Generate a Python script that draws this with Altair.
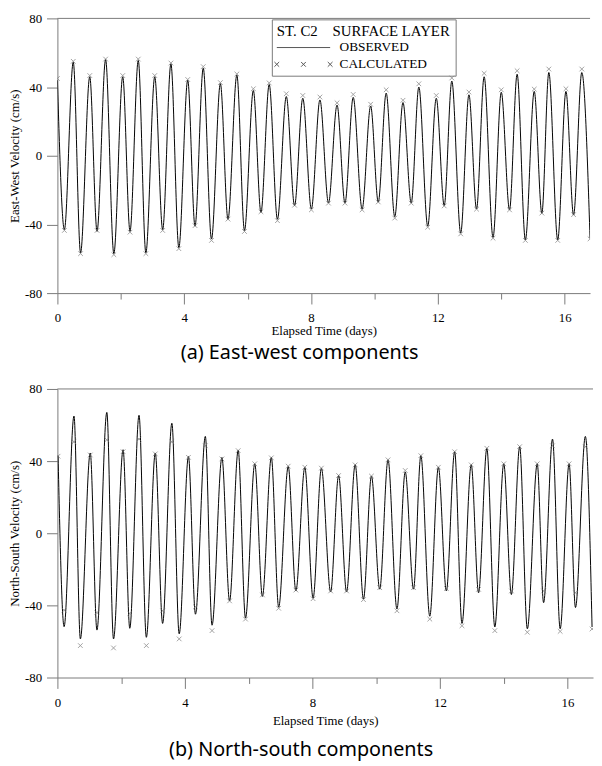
import altair as alt
import pandas as pd

# ---------------- data (extrema of each half tide) -------------
# (a) East-west component: times of successive peaks / troughs (days)
ew_times = [0.00, 0.22, 0.50, 0.73, 1.02, 1.25, 1.52, 1.78, 2.06, 2.29, 2.55, 2.79,
            3.07, 3.32, 3.58, 3.83, 4.11, 4.34, 4.60, 4.86, 5.14, 5.38, 5.66, 5.90,
            6.18, 6.42, 6.68, 6.94, 7.22, 7.48, 7.74, 8.01, 8.28, 8.55, 8.82, 9.07,
            9.33, 9.61, 9.88, 10.12, 10.37, 10.64, 10.90, 11.16, 11.40, 11.68, 11.95,
            12.20, 12.44, 12.72, 12.98, 13.22, 13.46, 13.74, 14.00, 14.26, 14.50,
            14.76, 15.04, 15.28, 15.50, 15.78, 16.04, 16.28, 16.54, 16.80]
ew_calc = [45, -43.5, 55, -57, 46.7, -43.5, 56.3, -57.6, 46.7, -44.5, 56.3, -57,
           46.7, -43.5, 54, -54.1, 44.4, -40.7, 51.9, -49.3, 42.6, -36.9, 47.6, -44.1,
           39, -32.6, 42.4, -37.8, 36.1, -28.8, 35.1, -31.5, 34.2, -27.6, 30.8, -27.6,
           35.7, -31.5, 30, -26.9, 38.4, -36.3, 32.3, -27.6, 41.9, -41.6, 35.1,
           -29.2, 45.3, -45.5, 37.1, -31.1, 48, -48, 38.4, -31.5, 49.5,
           -49.3, 38.8, -33.4, 50.5, -49.3, 39, -34.3, 50.5, -48.4]
ew_obs = [44, -43, 54.5, -56.5, 46, -44, 56, -57, 46, -44, 55.5, -56.5,
          46, -43, 53.5, -53.5, 44, -41, 51, -48.5, 42, -37, 47, -43.5,
          38, -33, 41.5, -37, 34.5, -29, 33.5, -31, 32.5, -27.5, 29.5, -27.5,
          34, -31, 29, -27, 36.5, -35.5, 31, -27.5, 40, -41, 33.5,
          -29, 43.5, -45, 35.5, -31, 46, -47.5, 37, -31.5, 47.5,
          -49, 37.5, -33.5, 48.5, -49, 37.5, -34.5, 48.5, -48]

# (b) North-south component
ns_times = [0.02, 0.21, 0.52, 0.72, 1.03, 1.24, 1.55, 1.76, 2.06, 2.27, 2.56, 2.79,
            3.07, 3.30, 3.59, 3.82, 4.11, 4.33, 4.64, 4.85, 5.16, 5.40, 5.67, 5.90,
            6.19, 6.43, 6.71, 6.94, 7.24, 7.48, 7.76, 8.02, 8.28, 8.57, 8.82, 9.07,
            9.34, 9.60, 9.85, 10.11, 10.37, 10.65, 10.91, 11.17, 11.40, 11.68, 11.95,
            12.20, 12.46, 12.69, 12.98, 13.21, 13.47, 13.72, 14.00, 14.24, 14.50,
            14.74, 15.05, 15.25, 15.53, 15.77, 16.05, 16.25, 16.56, 16.77]
ns_calc = [42.7, -42.7, 50.7, -62.3, 43.4, -44, 51.8, -63.6, 45.2, -44.5, 52.2, -62.3,
           44, -43, 50.7, -58.6, 42.1, -40.8, 48.5, -54, 41.2, -37.5, 45.8, -47.6,
           38.5, -34.2, 41.8, -41.6, 37.2, -31.5, 36.6, -36.3, 36.1, -32, 32, -32,
           37.9, -36.8, 31.7, -30.2, 40.7, -43, 34.8, -30.2, 43, -47.6, 36.6,
           -30.6, 45.2, -51.3, 37.9, -31.1, 47.1, -54, 38.5, -32, 48,
           -54.9, 38.5, -32, 48.5, -54.4, 38.5, -33, 48, -53.1]
ns_obs = [43, -51.8, 65, -58.6, 44.5, -53.7, 67, -58.6, 46.3, -52.7, 65.4, -57.7,
          44.5, -50, 61, -55.8, 42.5, -44.9, 53.7, -51, 42, -37.5, 46, -47,
          38.5, -35, 42, -41, 37, -32, 36.5, -36, 36, -32.5, 32, -32.5,
          38, -36.5, 31.7, -31, 40.7, -42, 34, -31, 43, -46, 36.6,
          -32, 45.2, -50, 38, -33, 47, -52, 38.5, -34, 48,
          -53, 38.5, -38.5, 52.2, -53, 38.5, -41.2, 53.7, -52]

x_ticks = [0, 2, 4, 6, 8, 10, 12, 14, 16]
y_ticks = [-80, -60, -40, -20, 0, 20, 40, 60, 80]
y_top = [80]
legend_items = ["OBSERVED", "CALCULATED"]

SERIF = "Liberation Serif"
AXIS_GRAY = "#7a7a7a"
X_MARK = "M-1,-1L1,1M-1,1L1,-1"
# legend symbols: size 256 -> unit = 8 px; span +-3.375 units = 54 px
LINE_SYM = "M-3.375,0L3.375,0"
X3_SYM = ("M-3.675,-0.3L-3.075,0.3M-3.675,0.3L-3.075,-0.3"
          "M-0.3,-0.3L0.3,0.3M-0.3,0.3L0.3,-0.3"
          "M3.075,-0.3L3.675,0.3M3.075,0.3L3.675,-0.3")


def panel(times, obs, calc, ytitle, caption, width, height, legend_x, legend_y,
          label_pad, title_pad, cap_off):
    obs_df = pd.DataFrame({"t": times, "v": obs})
    calc_df = pd.DataFrame({"t": times, "v": calc})
    xscale = alt.Scale(domain=[0, 16.8], nice=False, zero=False)
    yscale = alt.Scale(domain=[-80, 80], nice=False, zero=False)
    xaxis = alt.Axis(values=x_ticks, title="Elapsed Time (days)",
                     labelExpr="datum.value % 4 == 0 ? '' + datum.value : ''",
                     tickSize={"condition": {"test": "datum.value % 4 == 0", "value": 11},
                               "value": 6},
                     labelPadding=label_pad, titlePadding=title_pad, labelFlush=False)
    yaxis = alt.Axis(values=y_ticks, title=ytitle,
                     labelExpr="datum.value % 40 == 0 ? '' + datum.value : ''",
                     tickSize={"condition": {"test": "datum.value % 40 == 0", "value": 11},
                               "value": 5},
                     labelPadding=5, titlePadding=3, labelFlush=False)
    line = alt.Chart(obs_df).mark_line(color="black", strokeWidth=1,
                                       interpolate="monotone", clip=True).encode(
        x=alt.X("t:Q", scale=xscale, axis=xaxis),
        y=alt.Y("v:Q", scale=yscale, axis=yaxis),
    )
    pts = alt.Chart(calc_df).mark_point(shape=X_MARK, size=22, color="#6e6e6e",
                                        strokeWidth=0.9, filled=False, clip=True).encode(
        x="t:Q", y="v:Q")
    top = alt.Chart(pd.DataFrame({"v": y_top})).mark_rule(color=AXIS_GRAY).encode(y="v:Q")
    leg = alt.Chart(pd.DataFrame({"series": legend_items})).mark_point(
        opacity=0, size=0).encode(
        shape=alt.Shape("series:N",
                        scale=alt.Scale(domain=legend_items, range=[LINE_SYM, X3_SYM]),
                        legend=alt.Legend(
                            orient="none", legendX=legend_x, legendY=legend_y,
                            title="ST. C2\u00a0\u00a0\u00a0\u00a0SURFACE LAYER",
                            titleFont=SERIF, titleFontSize=15, titleFontWeight="normal",
                            titleColor="black", titlePadding=0,
                            labelFont=SERIF, labelFontSize=13.5, labelColor="black",
                            labelOffset=28, symbolOffset=18.5, symbolSize=256,
                            symbolStrokeColor="#555555",
                            symbolStrokeWidth=1, symbolFillColor="transparent",
                            symbolOpacity=1, strokeColor=AXIS_GRAY, padding=5,
                            rowPadding=2)))
    return alt.layer(line, pts, top, leg).properties(
        width=width, height=height,
        title=alt.TitleParams(caption, orient="bottom", anchor="middle", frame="bounds",
                              font="Noto Sans", fontSize=20, fontWeight="normal",
                              color="black", offset=cap_off))


pa = panel(ew_times, ew_obs, ew_calc, "East-West Velocity (cm/s)",
           "(a) East-west components", 539, 278, 217, 1, 8, 0, 6)
pb = panel(ns_times, ns_obs, ns_calc, "North-South Velocity (cm/s)",
           "(b) North-south components", 542, 292, 214, 3, 8, 6, 12)

chart = alt.vconcat(pa, pb, spacing=20).properties(
    padding={"left": 0, "top": 0, "right": 0, "bottom": 0}).configure_view(
    stroke=None).configure_axis(
    domainColor=AXIS_GRAY, tickColor=AXIS_GRAY, labelFont=SERIF, titleFont=SERIF,
    labelFontSize=13, titleFontSize=13, titleFontWeight="normal", labelColor="black",
    titleColor="black", grid=False)

chart.save("out.html", embed_options={"renderer": "svg", "actions": False})
